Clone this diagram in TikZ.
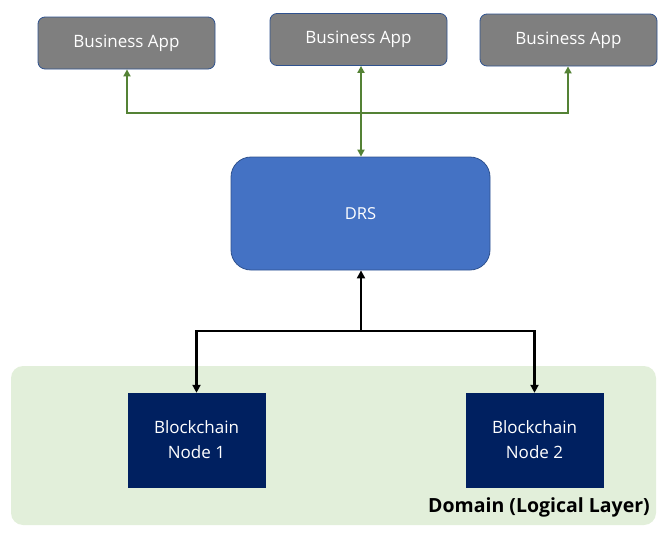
\documentclass[tikz,border=0pt]{standalone}
\usepackage{fontspec}
\setmainfont{Open Sans}
\usetikzlibrary{arrows.meta}
\definecolor{appgray}{HTML}{7F7F7F}
\definecolor{edgeblue}{HTML}{2F528F}
\definecolor{drsblue}{HTML}{4472C4}
\definecolor{linkgreen}{HTML}{548235}
\definecolor{navy}{HTML}{002060}
\definecolor{domaingreen}{HTML}{E2EFDA}
\tikzset{
  appbox/.style={draw=edgeblue, line width=0.8pt, fill=appgray, rounded corners=7pt, minimum width=177pt, minimum height=52pt, text=white, font=\fontsize{17}{20}\selectfont, inner sep=0pt},
  drsbox/.style={draw=edgeblue, line width=0.8pt, fill=drsblue, rounded corners=20pt, minimum width=259pt, minimum height=113pt, text=white, font=\fontsize{16.5}{20}\selectfont, inner sep=0pt},
  chainbox/.style={draw=navy, fill=navy, minimum width=137pt, minimum height=94pt, text=white, font=\fontsize{17}{25}\selectfont, align=center, inner sep=0pt},
  greenlink/.style={draw=linkgreen, line width=2.6pt, -{Triangle[length=7pt,width=7pt]}},
  blacklink/.style={draw=black, line width=2.8pt, -{Triangle[length=8pt,width=8pt]}},
}
\begin{document}
\begin{tikzpicture}[x=1pt,y=-1pt]
\useasboundingbox (0,0) rectangle (665,533);
\node[draw=none, fill=domaingreen, rounded corners=12pt, minimum width=645pt, minimum height=159pt, inner sep=0pt] (domain) at (333.5,445.5) {};
\node[font=\bfseries\fontsize{19.5}{22}\selectfont, anchor=east, inner sep=0pt] (domlabel) at (650,507) {Domain (Logical Layer)};
\node[appbox] (ba1) at (126.5,43) {Business App};
\node[appbox] (ba2) at (358.5,39.5) {Business App};
\node[appbox] (ba3) at (568.5,40) {Business App};
\node[drsbox] (drs) at (360.5,213.5) {DRS};
\node[chainbox] (bc1) at (196.5,440) {Blockchain\\Node 1};
\node[chainbox] (bc2) at (534.5,440) {Blockchain\\Node 2};
\coordinate (gj) at (361,113);
\coordinate (bj) at (361,331);
\draw[greenlink] (gj) -| (ba1.south -| 127,0);
\draw[greenlink] (gj) -| (ba3.south -| 568,0);
\draw[greenlink] (gj) -- (ba2.south -| gj);
\draw[greenlink] (gj) -- (drs.north -| gj);
\draw[blacklink] (bj) -- (drs.south -| bj);
\draw[blacklink] (bj) -| (bc1.north);
\draw[blacklink] (bj) -| (bc2.north);
\end{tikzpicture}
\end{document}
